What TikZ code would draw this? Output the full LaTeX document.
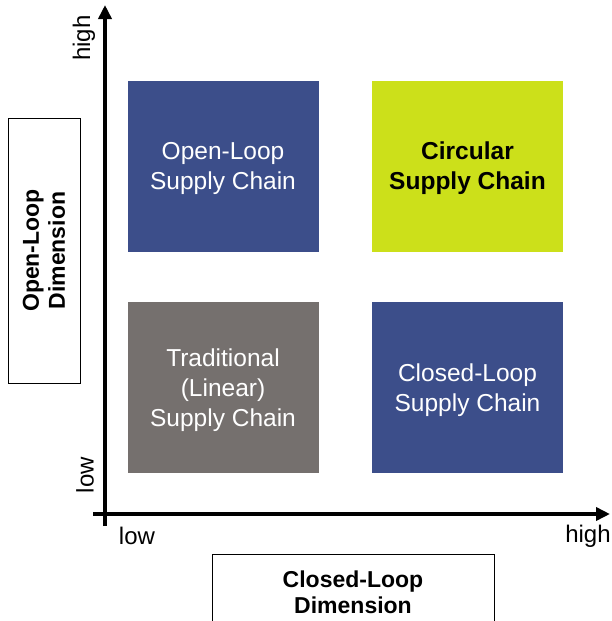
\documentclass[tikz,border=0pt]{standalone}
\usepackage{fontspec}
\setmainfont{Liberation Sans}
\usetikzlibrary{arrows.meta}

\definecolor{quadblue}{RGB}{60,78,138}
\definecolor{quadgray}{RGB}{117,112,110}
\definecolor{quadgreen}{RGB}{204,224,26}

\tikzset{
  quad/.style={minimum width=191pt, minimum height=171pt, inner sep=0pt,
    align=center, text=white, text depth=0pt, font=\fontsize{24.5}{30}\selectfont},
  dimbox/.style={draw, line width=1pt, inner sep=0pt, align=center,
    font=\bfseries\fontsize{23}{26}\selectfont},
  axis/.style={line width=3.5pt, -{Triangle[length=14pt,width=13pt]}},
  ticklabel/.style={inner sep=0pt, font=\fontsize{24}{28}\selectfont}
}

\begin{document}
\begin{tikzpicture}[x=1pt,y=-1pt]

    % --- Frame (pixel grid of the reference) ---
    \useasboundingbox (0,0) rectangle (612,621);

    % --- Axis end points ---
    \coordinate (X_start) at (93,514);
    \coordinate (X_end) at (610,514);
    \coordinate (Y_start) at (105,526);
    \coordinate (Y_end) at (105,5);

    % --- Axes ---
    \draw[axis] (X_start) -- (X_end);
    \draw[axis] (Y_start) -- (Y_end);

    % --- Quadrants ---
    \node[quad, fill=quadblue] (open) at (223,166) {Open-Loop\\Supply Chain};
    \node[quad, fill=quadgreen, text=black, font=\bfseries\fontsize{24.5}{30}\selectfont]
        (circular) at (467.5,166) {Circular\\Supply Chain};
    \node[quad, fill=quadgray] (linear) at (223,387.5) {Traditional\\(Linear)\\Supply Chain};
    \node[quad, fill=quadblue] (closed) at (467.5,387.5) {Closed-Loop\\Supply Chain};

    % --- Axis ends ---
    \node[ticklabel, rotate=90] (yhigh) at (84,38) {high};
    \node[ticklabel, rotate=90] (ylow) at (85,475) {low};
    \node[ticklabel] (xlow) at (137,536) {low};
    \node[ticklabel] (xhigh) at (588,536) {high};

    % --- Dimension labels ---
    \node[dimbox, rotate=90, minimum width=265pt, minimum height=72pt]
        (opendim) at (44,250.5) {Open-Loop\\Dimension};
    \node[dimbox, minimum width=282pt, minimum height=76pt]
        (closeddim) at (353,592) {Closed-Loop\\Dimension};

\end{tikzpicture}
\end{document}
